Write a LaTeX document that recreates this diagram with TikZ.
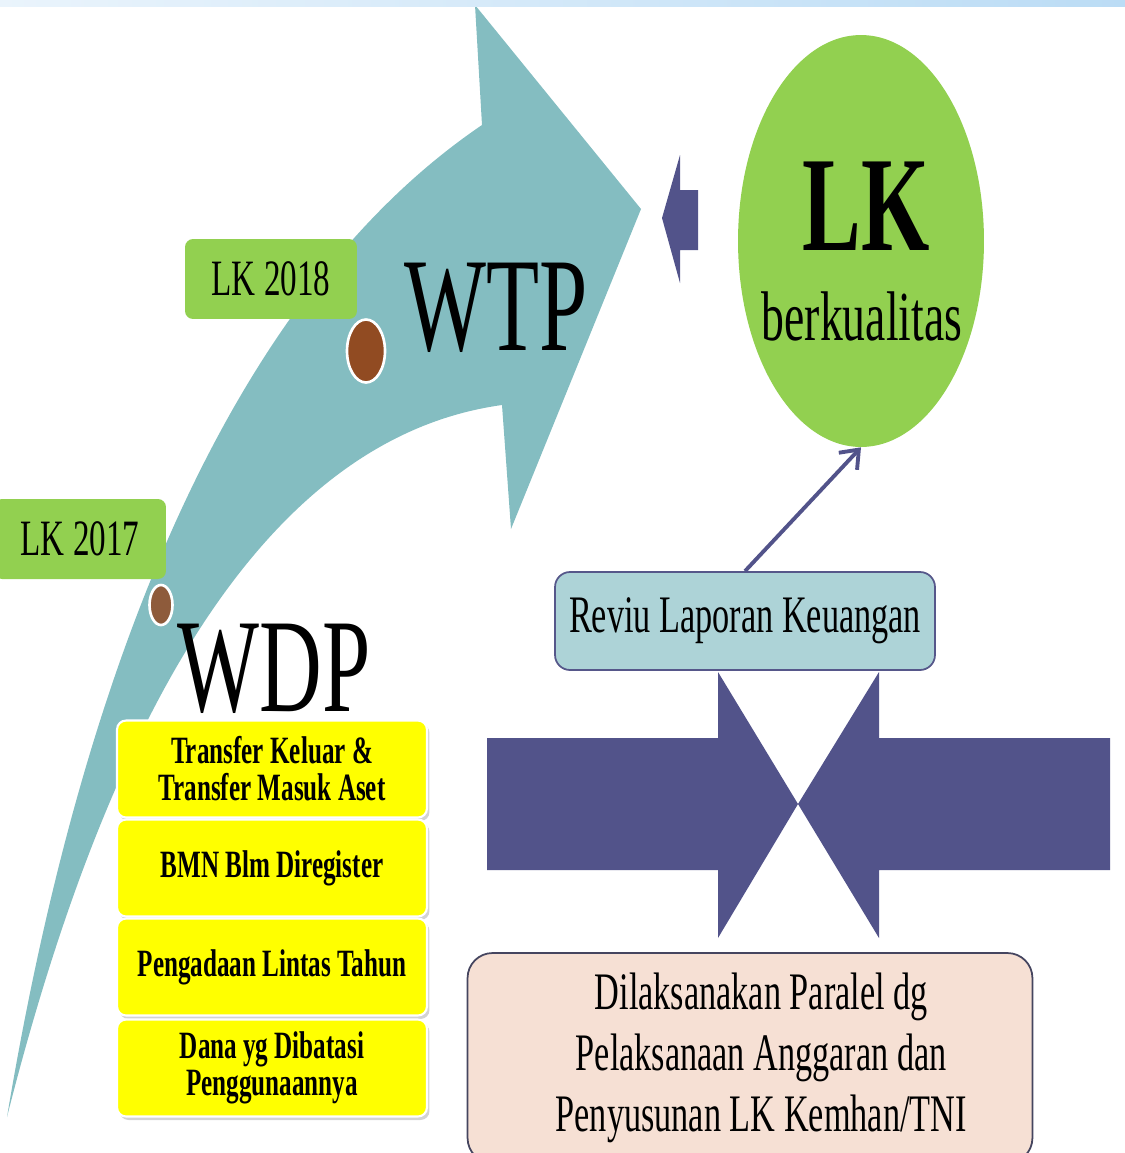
\documentclass[tikz,border=0pt]{standalone}
\usepackage{fontspec}
\setmainfont{Liberation Serif}[FakeStretch=0.65]
\usetikzlibrary{arrows.meta, shapes.geometric, shadows}

\definecolor{arrowteal}{HTML}{84BDC1}
\definecolor{navyarr}{HTML}{52538A}
\definecolor{lkgreen}{HTML}{92D050}
\definecolor{boxyellow}{HTML}{FFFF00}
\definecolor{reviufill}{HTML}{ADD3D7}
\definecolor{reviuline}{HTML}{56578A}
\definecolor{paralfill}{HTML}{F6E0D4}
\definecolor{paralline}{HTML}{45455F}
\definecolor{dotbrownA}{HTML}{914B22}
\definecolor{dotbrownB}{HTML}{8E5B3B}
\definecolor{bandleft}{HTML}{EAF4FC}
\definecolor{bandright}{HTML}{BBDCF5}

\tikzset{
  lkbox/.style={rounded corners=0.16cm, fill=lkgreen, minimum width=3.44cm,
    minimum height=1.6cm, inner sep=0pt, font=\fontsize{29}{32}\selectfont},
  yelbox/.style={rounded corners=0.18cm, fill=boxyellow, draw=white, line width=1.2pt,
    minimum width=6.2cm, minimum height=1.94cm, inner sep=0pt, align=center,
    font=\bfseries\fontsize{22}{21}\selectfont,
    drop shadow={opacity=0.35, shadow xshift=0.05cm, shadow yshift=-0.07cm}},
  dotmark/.style={ellipse, draw=white, line width=1.5pt, inner sep=0pt},
  bigword/.style={font=\fontsize{76}{76}\selectfont, inner sep=0pt, anchor=base},
}

\begin{document}
\begin{tikzpicture}[x=0.02cm, y=-0.02cm]
  \useasboundingbox (0,0) rectangle (1125,1153);
  \clip (0,0) rectangle (1125,1153);

  % curved arrow
  \fill[arrowteal] (7,1117) .. controls (60,800) and (180,330) .. (482,125)
    -- (475,5) -- (641,209) -- (511,529) -- (502,405)
    .. controls (250,440) and (100,750) .. (7,1117) -- cycle;

  \node[lkbox] (lk18) at (271,279) {LK 2018};
  \node[lkbox] (lk17) at (80,539) {LK 2017};
  \node[dotmark, fill=dotbrownA, minimum width=0.76cm, minimum height=1.26cm] (dot18) at (366,351) {};
  \node[dotmark, fill=dotbrownB, minimum width=0.46cm, minimum height=0.8cm] (dot17) at (161,605) {};
  \node[bigword] (wtp) at (496,350) {WTP};
  \node[bigword] (wdp) at (274,711) {WDP};

  % temuan
  \node[yelbox] (trf) at (272,769) {Transfer Keluar \&\\Transfer Masuk Aset};
  \node[yelbox] (bmn) at (272,868) {BMN Blm Diregister};
  \node[yelbox] (pla) at (272,967) {Pengadaan Lintas Tahun};
  \node[yelbox] (dana) at (272,1068) {Dana yg Dibatasi\\Penggunaannya};

  % arrows
  \fill[navyarr] (487,738) -- (718,738) -- (718,672) -- (798,804) -- (718,938) -- (718,870) -- (487,870) -- cycle;
  \fill[navyarr] (1110,738) -- (879,738) -- (879,672) -- (798,804) -- (879,938) -- (879,870) -- (1110,870) -- cycle;
  \fill[navyarr] (698,190) -- (680,190) -- (680,155) -- (662,218) -- (680,283) -- (680,250) -- (698,250) -- cycle;

  \node[draw=reviuline, line width=1pt, fill=reviufill, rounded corners=0.3cm, minimum width=7.6cm,
    minimum height=1.96cm, font=\fontsize{30}{32}\selectfont] (rev) at (745,621) {Reviu Laporan Keuangan};
  \node[draw=paralline, line width=1pt, fill=paralfill, rounded corners=0.5cm, minimum width=11.3cm,
    minimum height=4.2cm, align=center, font=\fontsize{30}{34.6}\selectfont] (par) at (750,1058)
    {\hspace*{0.45cm}Dilaksanakan Paralel dg\\\hspace*{0.45cm}Pelaksanaan Anggaran dan\\\hspace*{0.45cm}Penyusunan LK Kemhan/TNI};

  \node[ellipse, fill=lkgreen, minimum width=4.92cm, minimum height=8.24cm, inner sep=0pt] (lkq) at (861,241) {};
  \node[font=\bfseries\fontsize{77}{77}\selectfont, anchor=base, inner sep=0pt] (lkbig) at (866,250) {LK};
  \node[font=\fontsize{40}{40}\selectfont, anchor=base, inner sep=0pt] (berk) at (862,340) {berkualitas};

  \draw[navyarr, line width=2.2pt, -{Straight Barb[length=0.32cm, width=0.5cm]}] (rev.north) -- (lkq.south);

  \shade[left color=bandleft, right color=bandright] (0,0) rectangle (1125,6);
\end{tikzpicture}
\end{document}
